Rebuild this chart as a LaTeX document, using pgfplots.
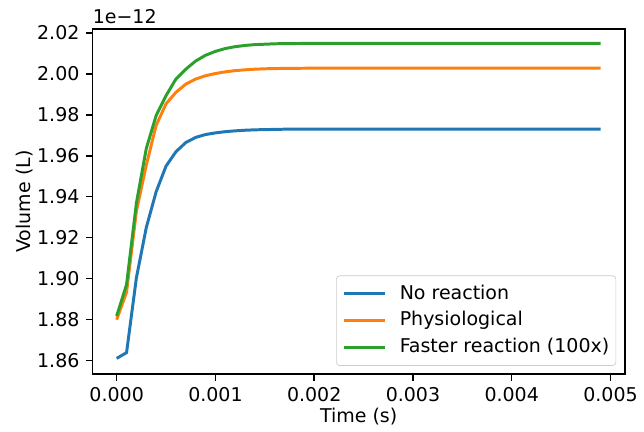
\documentclass[border=0pt]{standalone}
\usepackage{pgfplots}
\pgfplotsset{compat=1.18}
\usepackage{fontspec}
\setmainfont{DejaVu Sans}

\definecolor{mplblue}{HTML}{1F77B4}
\definecolor{mplorange}{HTML}{FF7F0E}
\definecolor{mplgreen}{HTML}{2CA02C}

\begin{document}
\fontsize{11.5}{13.5}\selectfont
\begin{tikzpicture}
\begin{axis}[
    scale only axis,
    width=322.4pt,
    height=209pt,
    xmin=-0.000245, xmax=0.005145,
    ymin=1.8534, ymax=2.0219,
    xtick={0,0.001,0.002,0.003,0.004,0.005},
    ytick={1.86,1.88,1.90,1.92,1.94,1.96,1.98,2.00,2.02},
    scaled ticks=false,
    /pgf/number format/assume math mode=true,
    /pgf/number format/fixed,
    /pgf/number format/fixed zerofill,
    /pgf/number format/precision=2,
    xticklabel style={/pgf/number format/precision=3},
    tick align=outside,
    tick pos=left,
    major tick length=3.85pt,
    every tick/.style={black, line width=0.85pt},
    axis line style={line width=0.85pt},
    minor tick num=0,
    xlabel={Time (s)},
    ylabel={Volume (L)},
    xlabel style={at={(axis description cs:0.5,-0.1215)}, anchor=center},
    ylabel style={at={(axis description cs:-0.128,0.5)}, anchor=center},
    clip=false,
    legend cell align=left,
    legend image code/.code={\draw[#1, line width=1.8pt] (0pt,0pt) -- (24.6pt,0pt);},
    legend style={
        at={(axis description cs:1,0)}, anchor=south east,
        xshift=-5.2pt, yshift=5pt,
        draw=black!20, rounded corners=2pt,
        fill=white, fill opacity=0.8, text opacity=1,
        inner xsep=4pt, inner ysep=5.2pt,
        row sep=4.6pt, column sep=8pt,
        nodes={inner sep=0pt, text height=9pt, text depth=2.6pt},
    },
]
\addplot[color=mplblue, line width=1.8pt] coordinates {
    (0,1.8611) (0.0001,1.8639) (0.0002,1.9005) (0.0003,1.9250)
    (0.0004,1.9425) (0.0005,1.9550) (0.0006,1.9620) (0.0007,1.9665)
    (0.0008,1.9690) (0.0009,1.9704) (0.0010,1.9712) (0.0011,1.9718)
    (0.0012,1.9722) (0.0013,1.9725) (0.0014,1.9727) (0.0015,1.9728)
    (0.0016,1.9729) (0.0017,1.9730) (0.0049,1.9730)
};
\addlegendentry{No reaction}
\addplot[color=mplorange, line width=1.8pt] coordinates {
    (0,1.8800) (0.0001,1.8934) (0.0002,1.9330) (0.0003,1.9555)
    (0.0004,1.9749) (0.0005,1.9854) (0.0006,1.9910) (0.0007,1.9950)
    (0.0008,1.9975) (0.0009,1.9991) (0.0010,2.0002) (0.0011,2.0010)
    (0.0012,2.0016) (0.0013,2.0020) (0.0014,2.0023) (0.0015,2.0025)
    (0.0016,2.0026) (0.0017,2.0027) (0.0020,2.0028) (0.0049,2.0028)
};
\addlegendentry{Physiological}
\addplot[color=mplgreen, line width=1.8pt] coordinates {
    (0,1.8818) (0.0001,1.8971) (0.0002,1.9370) (0.0003,1.9636)
    (0.0004,1.9797) (0.0005,1.9894) (0.0006,1.9975) (0.0007,2.0023)
    (0.0008,2.0063) (0.0009,2.0091) (0.0010,2.0110) (0.0011,2.0124)
    (0.0012,2.0133) (0.0013,2.0139) (0.0014,2.0143) (0.0015,2.0145)
    (0.0016,2.0147) (0.0017,2.0148) (0.0020,2.0149) (0.0049,2.0149)
};
\addlegendentry{Faster reaction (100x)}
\node[anchor=south west, inner sep=0pt] at ([yshift=3pt]rel axis cs:0,1) {1e−12};
\path (rel axis cs:0,0) ++(-56pt,-35pt);
\path (rel axis cs:1,1) ++(8pt,17.6pt);
\end{axis}
\end{tikzpicture}
\end{document}
